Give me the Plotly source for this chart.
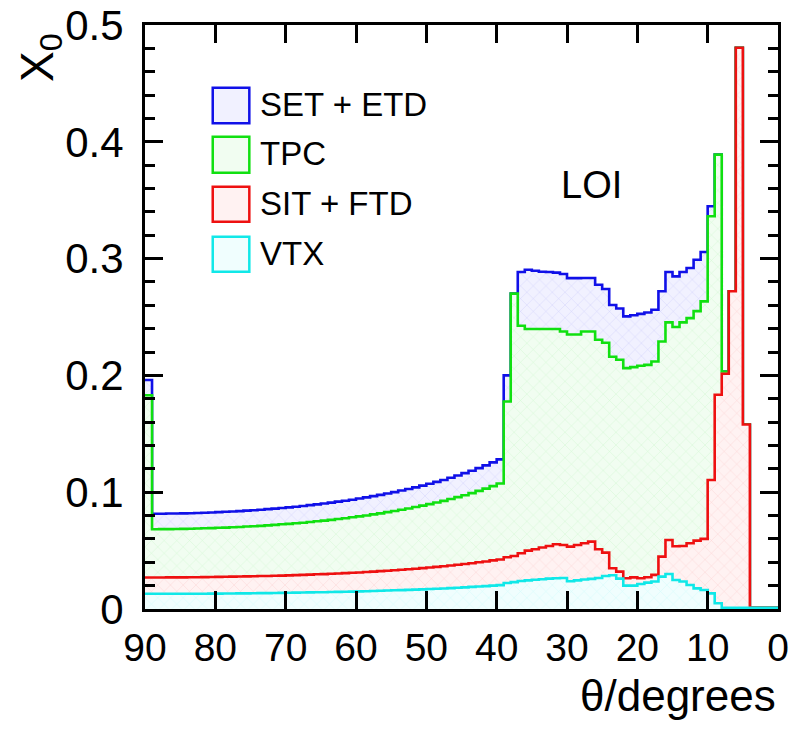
import plotly.graph_objects as go

# Bin lower edges (degrees), 1-degree bins from 0 to 90
bin_low = list(range(0, 90))

# Cumulative material budget X0 per bin (stacked histogram)
# VTX only
vtx = [0.001, 0.001, 0.001, 0.001, 0.001, 0.001, 0.001, 0.001, 0.0049, 0.0134,
       0.0163, 0.0177, 0.0206, 0.0235, 0.0248, 0.0300, 0.0277, 0.0235, 0.0226, 0.0214,
       0.0200, 0.0200, 0.0260, 0.0289, 0.0283, 0.0265, 0.0258, 0.0252, 0.0245, 0.0238,
       0.0265, 0.0263, 0.0260, 0.0255, 0.0250, 0.0245, 0.0240, 0.0230, 0.0222, 0.0204,
       0.0200, 0.0196, 0.0192, 0.0189, 0.0185, 0.0182, 0.0179, 0.0176, 0.0174, 0.0171,
       0.0168, 0.0166, 0.0164, 0.0162, 0.0160, 0.0158, 0.0156, 0.0154, 0.0152, 0.0151,
       0.0149, 0.0148, 0.0147, 0.0145, 0.0144, 0.0143, 0.0142, 0.0141, 0.0140, 0.0139,
       0.0138, 0.0137, 0.0136, 0.0136, 0.0135, 0.0134, 0.0134, 0.0133, 0.0133, 0.0132,
       0.0132, 0.0131, 0.0131, 0.0131, 0.0131, 0.0130, 0.0130, 0.0130, 0.0130, 0.0130]
# VTX + SIT + FTD
sit_ftd = [0.001, 0.001, 0.001, 0.001, 0.158, 0.4805, 0.272, 0.2014, 0.1834, 0.1105,
           0.0600, 0.0585, 0.0563, 0.0540, 0.0537, 0.0591, 0.0448, 0.0292, 0.0272, 0.0263,
           0.0271, 0.0263, 0.0320, 0.0349, 0.0483, 0.0511, 0.0577, 0.0563, 0.0548, 0.0534,
           0.0548, 0.0554, 0.0540, 0.0526, 0.0511, 0.0500, 0.0477, 0.0454, 0.0443, 0.0424,
           0.0416, 0.0407, 0.0400, 0.0392, 0.0385, 0.0379, 0.0372, 0.0366, 0.0361, 0.0355,
           0.0350, 0.0345, 0.0340, 0.0336, 0.0332, 0.0328, 0.0324, 0.0320, 0.0317, 0.0313,
           0.0310, 0.0307, 0.0304, 0.0302, 0.0299, 0.0297, 0.0294, 0.0292, 0.0290, 0.0288,
           0.0286, 0.0285, 0.0283, 0.0282, 0.0280, 0.0279, 0.0278, 0.0277, 0.0276, 0.0275,
           0.0274, 0.0273, 0.0272, 0.0272, 0.0271, 0.0271, 0.0271, 0.0270, 0.0270, 0.0270]
# VTX + SIT + FTD + TPC
tpc = [0.001, 0.001, 0.001, 0.001, 0.158, 0.4805, 0.272, 0.2034, 0.389, 0.3362,
       0.2634, 0.2550, 0.2490, 0.2454, 0.2414, 0.2454, 0.2290, 0.2119, 0.2090, 0.2082,
       0.2071, 0.2062, 0.2134, 0.2160, 0.2280, 0.2305, 0.2376, 0.2376, 0.2350, 0.2350,
       0.2376, 0.2397, 0.2397, 0.2397, 0.2397, 0.2397, 0.2425, 0.2700, 0.1777, 0.1074,
       0.1052, 0.1031, 0.1011, 0.0992, 0.0974, 0.0958, 0.0942, 0.0926, 0.0912, 0.0898,
       0.0885, 0.0873, 0.0861, 0.0850, 0.0839, 0.0829, 0.0819, 0.0810, 0.0801, 0.0793,
       0.0785, 0.0777, 0.0770, 0.0763, 0.0757, 0.0751, 0.0745, 0.0739, 0.0734, 0.0729,
       0.0725, 0.0720, 0.0716, 0.0712, 0.0709, 0.0706, 0.0702, 0.0700, 0.0697, 0.0695,
       0.0692, 0.0691, 0.0689, 0.0687, 0.0686, 0.0685, 0.0684, 0.0684, 0.0683, 0.1830]
# VTX + SIT + FTD + TPC + SET + ETD (total)
set_etd = [0.001, 0.001, 0.001, 0.001, 0.158, 0.4805, 0.272, 0.2034, 0.389, 0.3448,
           0.3056, 0.2990, 0.2920, 0.2885, 0.2848, 0.2885, 0.2720, 0.2562, 0.2539, 0.2527,
           0.2515, 0.2505, 0.2573, 0.2603, 0.2740, 0.2776, 0.2834, 0.2834, 0.2833, 0.2833,
           0.2868, 0.2880, 0.2885, 0.2887, 0.2896, 0.2905, 0.2885, 0.2700, 0.2000, 0.1281,
           0.1255, 0.1230, 0.1206, 0.1184, 0.1163, 0.1143, 0.1124, 0.1105, 0.1088, 0.1072,
           0.1056, 0.1041, 0.1027, 0.1014, 0.1001, 0.0989, 0.0977, 0.0966, 0.0956, 0.0946,
           0.0936, 0.0927, 0.0919, 0.0911, 0.0903, 0.0896, 0.0889, 0.0882, 0.0876, 0.0870,
           0.0865, 0.0859, 0.0855, 0.0850, 0.0846, 0.0842, 0.0838, 0.0835, 0.0832, 0.0829,
           0.0826, 0.0824, 0.0822, 0.0820, 0.0819, 0.0818, 0.0817, 0.0816, 0.0815, 0.1960]

series_names = ["SET + ETD", "TPC", "SIT + FTD", "VTX"]
series_vals = [set_etd, tpc, sit_ftd, vtx]
line_colors = ["#1010e8", "#10e010", "#ee1010", "#10e8e8"]
fill_bg = ["#f1f1ff", "#f1fdf1", "#fff2f2", "#f0fefe"]

x_ticks = [90, 80, 70, 60, 50, 40, 30, 20, 10, 0]
y_ticks = [0, 0.1, 0.2, 0.3, 0.4, 0.5]

fig = go.Figure()
xs = bin_low + [90]
for name, vals, lc, bg in zip(series_names, series_vals, line_colors, fill_bg):
    ys = list(vals) + [vals[-1]]
    fig.add_trace(go.Scatter(
        x=xs, y=ys, mode="lines", name=name,
        line=dict(color=lc, width=2.6, shape="hv"),
        fill="tozeroy", fillcolor=bg,
        fillpattern=dict(shape="x", fgcolor=lc, fgopacity=0.18, bgcolor=bg, size=9, solidity=0.08),
        showlegend=False, hoverinfo="skip",
    ))

FONT = "Liberation Sans, Arial, Helvetica, sans-serif"

# Legend drawn manually (boxes + text)
leg_y = [(0.8926, 0.8317), (0.8087, 0.7471), (0.7231, 0.6632), (0.6375, 0.5776)]
for (yt, yb), name, lc, bg in zip(leg_y, series_names, line_colors, fill_bg):
    fig.add_shape(type="rect", xref="paper", yref="paper", x0=0.107, x1=0.1648, y0=yb, y1=yt,
                  line=dict(color=lc, width=2.5), fillcolor=bg, layer="above")
    fig.add_annotation(xref="paper", yref="paper", x=0.1785, y=(yt + yb) / 2 + 0.002,
                       text=name, showarrow=False, xanchor="left", yanchor="middle",
                       font=dict(family=FONT, size=33, color="black"))

fig.add_annotation(xref="paper", yref="paper", x=0.7046, y=0.726, text="LOI", showarrow=False,
                   xanchor="center", yanchor="middle", font=dict(family=FONT, size=38, color="black"))
fig.add_annotation(xref="paper", yref="paper", x=-0.166, y=0.945, text="X<sub>0</sub>",
                   textangle=-90, showarrow=False, xanchor="center", yanchor="middle",
                   font=dict(family=FONT, size=46, color="black"))
fig.add_annotation(xref="paper", yref="paper", x=1.0, y=-0.148, text="θ/degrees", showarrow=False,
                   xanchor="right", yanchor="middle", font=dict(family=FONT, size=44, color="black"))

fig.update_xaxes(range=[90, 0], tickvals=x_ticks, ticktext=[str(v) for v in x_ticks],
                 ticks="inside", ticklen=18, tickwidth=2.5, tickcolor="black",
                 showline=True, linecolor="black", linewidth=3, mirror="ticks",
                 showgrid=False, zeroline=False, ticklabelstandoff=2, automargin=False,
                 tickfont=dict(family=FONT, size=39, color="black"))
fig.update_yaxes(range=[0, 0.5], tickvals=y_ticks, ticktext=["0", "0.1", "0.2", "0.3", "0.4", "0.5"],
                 ticks="inside", ticklen=18, tickwidth=2.5, tickcolor="black",
                 minor=dict(ticks="inside", ticklen=10, tickwidth=2.5, tickcolor="black", dtick=0.02, tick0=0),
                 showline=True, linecolor="black", linewidth=3, mirror="ticks",
                 showgrid=False, zeroline=False, ticklabelstandoff=10, automargin=False,
                 tickfont=dict(family=FONT, size=42, color="black"))

fig.update_layout(width=792, height=740, margin=dict(l=145, r=14, t=25, b=131),
                  paper_bgcolor="white", plot_bgcolor="white", showlegend=False)

fig.write_html("out.html")
